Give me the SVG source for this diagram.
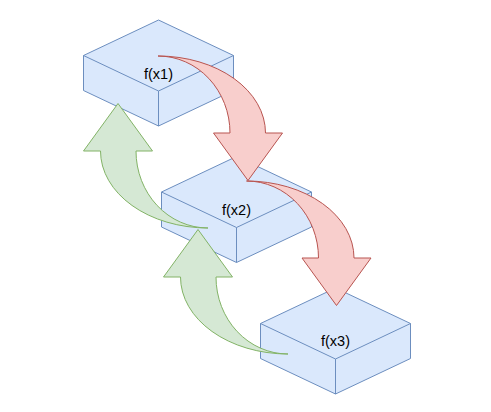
<svg xmlns="http://www.w3.org/2000/svg" width="491" height="412" viewBox="0 0 491 412">
<style>
.box{fill:#dae8fc;stroke:#6c8ebf;stroke-width:1;stroke-linejoin:miter}
.ln{fill:none;stroke:#6c8ebf;stroke-width:1}
.red{fill:#f8cecc;stroke:#b85450;stroke-width:1}
.green{fill:#d5e8d4;stroke:#82b366;stroke-width:1}
.lbl{font-family:"Liberation Sans",Arial,sans-serif;font-size:14.5px;fill:#000;text-anchor:middle}
</style>
<defs>
<g id="cube">
<path class="box" d="M75,0 L150,35.5 L150,70.5 L75,106 L0,70.5 L0,35.5 Z"/>
<path class="ln" d="M0,35.5 L75,71 L150,35.5 M75,71 L75,106"/>
</g>
<path id="jump" d="M0,0 A107.5,77 0 0 1 107.5,77 L124.5,77 L90,124.5 L55.5,77 L72,77 A72,77 0 0 0 0,0 Z"/>
</defs>
<g id="node1">
<use href="#cube" transform="translate(83.5,20)"/>
<text class="lbl" x="158.5" y="78.5">f(x1)</text>
</g>
<g id="node2">
<use href="#cube" transform="translate(161.5,156.5)"/>
<text class="lbl" x="236.5" y="214.5">f(x2)</text>
</g>
<g id="node3">
<use href="#cube" transform="translate(260.5,288)"/>
<text class="lbl" x="335.5" y="345.5">f(x3)</text>
</g>
<g id="connectors">
<use href="#jump" class="red" transform="translate(158,56)"/>
<use href="#jump" class="red" transform="translate(246.5,181)"/>
<use href="#jump" class="green" transform="translate(208,228) rotate(180)"/>
<use href="#jump" class="green" transform="translate(288,354) rotate(180)"/>
</g>
</svg>
